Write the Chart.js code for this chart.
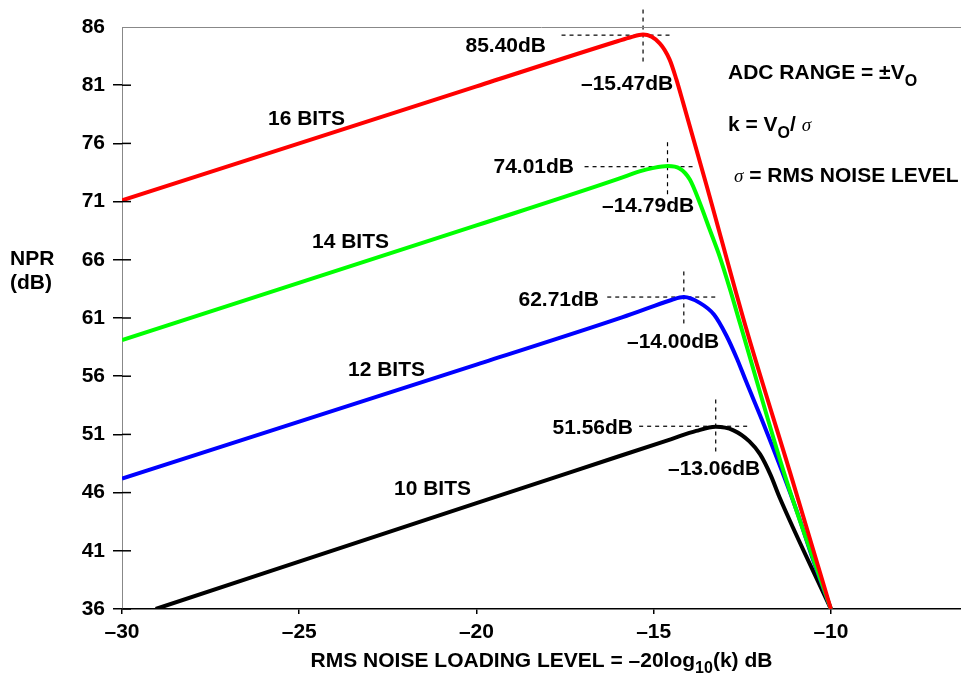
<!DOCTYPE html>
<html lang="en">
<head>
<meta charset="UTF-8">
<title>NPR vs RMS Noise Loading Level</title>
<script src="https://cdn.jsdelivr.net/npm/chart.js"></script>
<style>
  html, body { margin: 0; padding: 0; background: #fff; }
  canvas { display: block; }
</style>
</head>
<body>
<canvas id="nprChart" width="961" height="675"></canvas>
<script>
// axis ticks
const xTicks = [-30, -25, -20, -15, -10];
const yTicks = [36, 41, 46, 51, 56, 61, 66, 71, 76, 81, 86];

// curves, [noise loading dB, NPR dB]
const bits16 = [[-30, 71.1], [-20, 80.9], [-16, 84.8], [-15.65, 85.12], [-15.3, 85.35], [-14.83, 84.6],
  [-14.55, 83.2], [-14.36, 81.5], [-14.17, 79.5], [-13.5, 72.3], [-12.4, 60.2], [-11.1, 47.2], [-10, 36]];
const bits14 = [[-30, 59.1], [-20, 68.95], [-16, 72.95], [-15.4, 73.6], [-15.0, 73.9], [-14.6, 74.05],
  [-14.27, 73.85], [-13.98, 72.9], [-13.7, 70.9], [-13.42, 68.6], [-13.14, 66.3], [-12.85, 63.5],
  [-12.57, 60.6], [-11.27, 47.2], [-10, 36]];
const bits12 = [[-30, 47.2], [-20, 57.0], [-16, 60.95], [-15.2, 61.8], [-14.5, 62.55], [-14.15, 62.8],
  [-13.7, 62.3], [-13.3, 61.3], [-12.95, 59.5], [-12.65, 57.5], [-12.4, 55.6], [-11.9, 51.9], [-11.4, 48.0],
  [-10.95, 44.3], [-10.5, 40.2], [-10, 36]];
const bits10 = [[-29.05, 36], [-20, 45.1], [-16, 49.1], [-14.5, 50.6], [-13.8, 51.3], [-13.25, 51.65],
  [-12.75, 51.35], [-12.3, 50.4], [-12.0, 49.3], [-11.7, 47.5], [-11.45, 45.6], [-10, 36]];

// dashed cross-hairs at each peak
const peakX = [-15.30, -14.61, -14.15, -13.25];
const peakY = [85.3, 74.0, 62.8, 51.7];
const crossH = [[-17.6, -14.53], [-16.95, -13.84], [-16.31, -13.21], [-15.41, -12.33]];
const crossV = [[87.5, 82.8], [76.1, 71.5], [65.0, 60.4], [54.0, 49.5]];

const seriesColors = ['#ff0000', '#00ff00', '#0000ff', '#000000'];
const seriesData = [bits16, bits14, bits12, bits10];

const FONT = '"Liberation Sans", Arial, Helvetica, sans-serif';
const bold = size => 'bold ' + size + 'px ' + FONT;
const SIGMA = 'italic 19px "Liberation Serif", "Times New Roman", serif';

// text put on the chart (pixel anchors, baseline)
const textLabels = [
  { text: '16 BITS', x: 268, y: 125 },
  { text: '14 BITS', x: 312, y: 248 },
  { text: '12 BITS', x: 348, y: 376 },
  { text: '10 BITS', x: 394, y: 495 },
  { text: '85.40dB', x: 546, y: 52, align: 'right' },
  { text: '–15.47dB', x: 581, y: 90 },
  { text: '74.01dB', x: 574, y: 173, align: 'right' },
  { text: '–14.79dB', x: 602, y: 212 },
  { text: '62.71dB', x: 599, y: 306, align: 'right' },
  { text: '–14.00dB', x: 627, y: 348 },
  { text: '51.56dB', x: 633, y: 434, align: 'right' },
  { text: '–13.06dB', x: 668, y: 475 }
];

const datasets = seriesData.map((pts, i) => ({
  data: pts.map(p => ({ x: p[0], y: p[1] })),
  borderColor: seriesColors[i],
  borderWidth: 4,
  pointRadius: 0,
  fill: false,
  cubicInterpolationMode: 'monotone'
}));

peakX.forEach((px, i) => {
  const dashed = {
    borderColor: '#000', borderWidth: 1.2, borderDash: [4, 4],
    pointRadius: 0, fill: false, clip: false, tension: 0
  };
  datasets.push(Object.assign({ data: crossH[i].map(x => ({ x: x, y: peakY[i] })) }, dashed));
  datasets.push(Object.assign({ data: crossV[i].map(y => ({ x: px, y: y })) }, dashed));
});

// draws runs of text with different fonts / baseline shifts
function drawRuns(ctx, runs, x, y, align) {
  let total = 0;
  runs.forEach(r => { ctx.font = r.font; total += ctx.measureText(r.t).width; });
  let cx = align === 'center' ? x - total / 2 : x;
  ctx.textAlign = 'left';
  ctx.textBaseline = 'alphabetic';
  runs.forEach(r => {
    ctx.font = r.font;
    ctx.fillText(r.t, cx, y + (r.dy || 0));
    cx += ctx.measureText(r.t).width;
  });
}

const decorations = {
  id: 'decorations',
  afterDraw(chart) {
    const ctx = chart.ctx;
    const area = chart.chartArea;
    const yScale = chart.scales.y;
    ctx.save();

    // grey frame line along the top
    ctx.strokeStyle = '#888';
    ctx.lineWidth = 1;
    ctx.beginPath();
    ctx.moveTo(area.left, area.top + 0.5);
    ctx.lineTo(area.right, area.top + 0.5);
    ctx.stroke();

    // inner half of the y ticks
    ctx.strokeStyle = '#000';
    ctx.lineWidth = 1.5;
    yTicks.forEach(v => {
      if (v === 86) return;
      const py = yScale.getPixelForValue(v);
      ctx.beginPath();
      ctx.moveTo(area.left, py);
      ctx.lineTo(area.left + 9, py);
      ctx.stroke();
    });

    ctx.fillStyle = '#000';
    textLabels.forEach(l => {
      ctx.font = bold(21);
      ctx.textAlign = l.align || 'left';
      ctx.textBaseline = 'alphabetic';
      ctx.fillText(l.text, l.x, l.y);
    });

    // y axis title
    ctx.font = bold(21);
    ctx.textAlign = 'left';
    ctx.fillText('NPR', 10, 265);
    ctx.fillText('(dB)', 10, 289);

    // notes on the right
    drawRuns(ctx, [{ t: 'ADC RANGE = ±V', font: bold(21) }, { t: 'O', font: bold(16), dy: 7 }], 728, 79);
    drawRuns(ctx, [{ t: 'k = V', font: bold(21) }, { t: 'O', font: bold(16), dy: 7 },
      { t: '/ ', font: bold(21) }, { t: 'σ', font: SIGMA }], 728, 131);
    drawRuns(ctx, [{ t: 'σ', font: SIGMA }, { t: ' = RMS NOISE LEVEL', font: bold(21) }], 734, 182);

    // x axis title
    drawRuns(ctx, [{ t: 'RMS NOISE LOADING LEVEL = –20log', font: bold(21) },
      { t: '10', font: bold(16), dy: 6 }, { t: '(k) dB', font: bold(21) }],
      (area.left + area.right) / 2, 667, 'center');

    ctx.restore();
  }
};

const minusLabel = v => (v < 0 ? '–' + Math.abs(v) : String(v));

new Chart(document.getElementById('nprChart'), {
  type: 'line',
  data: { datasets: datasets },
  options: {
    responsive: false,
    animation: false,
    layout: { padding: { top: 27, right: 0, bottom: 0, left: 0 } },
    plugins: { legend: { display: false }, tooltip: { enabled: false } },
    scales: {
      x: {
        type: 'linear',
        min: -30,
        max: -6.33,
        afterBuildTicks: s => { s.ticks = xTicks.map(v => ({ value: v })); },
        afterFit: s => { s.height = 66; },
        grid: { drawOnChartArea: false, tickLength: 5, color: '#000', lineWidth: 1.5 },
        border: { color: '#000', width: 1.5 },
        ticks: { color: '#000', font: { family: FONT, size: 21, weight: 'bold' }, padding: 6, maxRotation: 0, callback: minusLabel }
      },
      y: {
        min: 36,
        max: 86,
        afterBuildTicks: s => { s.ticks = yTicks.map(v => ({ value: v })); },
        afterFit: s => { s.width = 122; },
        grid: {
          drawOnChartArea: false, tickLength: 9, lineWidth: 1.5,
          color: c => (c.tick && c.tick.value === 86 ? 'rgba(0,0,0,0)' : '#000')
        },
        border: { color: '#888', width: 1 },
        ticks: { color: '#000', font: { family: FONT, size: 21, weight: 'bold' }, padding: 8, callback: minusLabel }
      }
    }
  },
  plugins: [decorations]
});
</script>
</body>
</html>
